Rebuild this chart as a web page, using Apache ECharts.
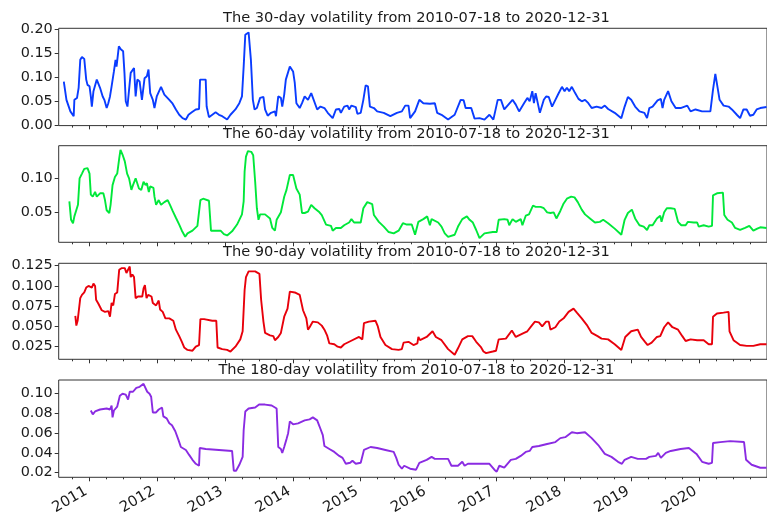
<!DOCTYPE html>
<html><head><meta charset="utf-8">
<script src="https://cdn.jsdelivr.net/npm/echarts@6/dist/echarts.min.js"></script>
<style>html,body{margin:0;padding:0;background:#fff}#c{width:767px;height:518px}</style>
</head><body><div id="c"></div>
<script>
// ---- data (x as decimal years, y as volatility) ----
const startDate = '2010-07-18';
const endDate = '2020-12-31';
const titles = [
  'The 30-day volatility from 2010-07-18 to 2020-12-31',
  'The 60-day volatility from 2010-07-18 to 2020-12-31',
  'The 90-day volatility from 2010-07-18 to 2020-12-31',
  'The 180-day volatility from 2010-07-18 to 2020-12-31'
];
const yearTicks = [2011, 2012, 2013, 2014, 2015, 2016, 2017, 2018, 2019, 2020];
const yTicks30 = [0, 0.05, 0.10, 0.15, 0.20];
const yTicks60 = [0.05, 0.10];
const yTicks90 = [0.025, 0.050, 0.075, 0.100, 0.125];
const yTicks180 = [0.02, 0.04, 0.06, 0.08, 0.10];

const vol30 = [[2010.618,0.091],[2010.657,0.053],[2010.691,0.039],[2010.715,0.029],[2010.739,0.026],[2010.764,0.019],[2010.774,0.053],[2010.813,0.057],[2010.837,0.078],[2010.861,0.136],[2010.886,0.142],[2010.920,0.138],[2010.934,0.140],[2010.949,0.095],[2010.968,0.084],[2010.998,0.081],[2011.017,0.060],[2011.032,0.039],[2011.056,0.071],[2011.080,0.074],[2011.105,0.095],[2011.129,0.091],[2011.153,0.078],[2011.192,0.060],[2011.217,0.053],[2011.251,0.036],[2011.275,0.046],[2011.300,0.060],[2011.324,0.081],[2011.358,0.112],[2011.382,0.136],[2011.397,0.122],[2011.431,0.164],[2011.460,0.158],[2011.494,0.154],[2011.514,0.109],[2011.533,0.050],[2011.558,0.039],[2011.582,0.038],[2011.606,0.109],[2011.631,0.112],[2011.655,0.119],[2011.679,0.060],[2011.704,0.095],[2011.738,0.091],[2011.772,0.053],[2011.811,0.098],[2011.845,0.102],[2011.869,0.116],[2011.894,0.067],[2011.933,0.053],[2011.957,0.036],[2011.991,0.060],[2012.054,0.080],[2012.079,0.078],[2012.103,0.064],[2012.176,0.053],[2012.225,0.045],[2012.273,0.033],[2012.322,0.022],[2012.371,0.015],[2012.420,0.012],[2012.459,0.022],[2012.507,0.027],[2012.566,0.033],[2012.614,0.034],[2012.629,0.095],[2012.712,0.095],[2012.726,0.039],[2012.760,0.017],[2012.809,0.022],[2012.858,0.027],[2012.907,0.022],[2012.955,0.019],[2013.028,0.012],[2013.077,0.022],[2013.150,0.033],[2013.208,0.046],[2013.247,0.060],[2013.272,0.122],[2013.296,0.188],[2013.345,0.193],[2013.379,0.136],[2013.408,0.053],[2013.433,0.033],[2013.467,0.036],[2013.515,0.057],[2013.564,0.059],[2013.588,0.033],[2013.627,0.020],[2013.676,0.026],[2013.734,0.029],[2013.749,0.019],[2013.783,0.060],[2013.822,0.057],[2013.842,0.039],[2013.871,0.064],[2013.895,0.095],[2013.954,0.122],[2013.968,0.126],[2014.002,0.112],[2014.027,0.088],[2014.051,0.046],[2014.100,0.036],[2014.134,0.046],[2014.173,0.060],[2014.222,0.053],[2014.270,0.067],[2014.294,0.071],[2014.358,0.033],[2014.407,0.039],[2014.465,0.036],[2014.514,0.026],[2014.587,0.015],[2014.635,0.033],[2014.684,0.034],[2014.708,0.026],[2014.757,0.039],[2014.806,0.041],[2014.830,0.033],[2014.864,0.041],[2014.928,0.038],[2014.952,0.024],[2015.001,0.026],[2015.040,0.053],[2015.074,0.083],[2015.108,0.081],[2015.137,0.039],[2015.196,0.036],[2015.244,0.029],[2015.341,0.026],[2015.439,0.019],[2015.536,0.026],[2015.609,0.029],[2015.658,0.041],[2015.707,0.041],[2015.731,0.015],[2015.804,0.029],[2015.867,0.053],[2015.926,0.046],[2016.023,0.045],[2016.096,0.046],[2016.130,0.026],[2016.194,0.022],[2016.291,0.012],[2016.388,0.022],[2016.476,0.053],[2016.520,0.052],[2016.549,0.036],[2016.632,0.036],[2016.681,0.014],[2016.754,0.015],[2016.827,0.012],[2016.900,0.022],[2016.958,0.012],[2017.022,0.053],[2017.070,0.053],[2017.119,0.033],[2017.241,0.053],[2017.289,0.043],[2017.338,0.029],[2017.411,0.046],[2017.460,0.057],[2017.494,0.050],[2017.533,0.071],[2017.557,0.046],[2017.582,0.067],[2017.606,0.071],[2017.645,0.026],[2017.703,0.053],[2017.737,0.060],[2017.776,0.059],[2017.825,0.039],[2017.874,0.053],[2017.913,0.064],[2017.971,0.080],[2018.010,0.071],[2018.044,0.078],[2018.078,0.071],[2018.117,0.080],[2018.166,0.067],[2018.215,0.055],[2018.263,0.050],[2018.312,0.053],[2018.361,0.046],[2018.410,0.036],[2018.483,0.039],[2018.556,0.036],[2018.604,0.041],[2018.653,0.034],[2018.750,0.026],[2018.848,0.015],[2018.897,0.039],[2018.945,0.059],[2018.994,0.053],[2019.052,0.039],[2019.116,0.029],[2019.189,0.026],[2019.228,0.015],[2019.262,0.036],[2019.310,0.039],[2019.384,0.052],[2019.432,0.055],[2019.457,0.036],[2019.481,0.053],[2019.539,0.071],[2019.588,0.050],[2019.651,0.036],[2019.724,0.036],[2019.822,0.041],[2019.871,0.029],[2019.944,0.033],[2020.041,0.029],[2020.114,0.029],[2020.163,0.029],[2020.202,0.074],[2020.236,0.107],[2020.260,0.107],[2020.299,0.053],[2020.358,0.041],[2020.431,0.039],[2020.480,0.033],[2020.553,0.022],[2020.601,0.015],[2020.650,0.033],[2020.698,0.033],[2020.747,0.020],[2020.796,0.022],[2020.845,0.033],[2020.898,0.036],[2020.990,0.038]];

const vol60 = [[2010.700,0.066],[2010.725,0.039],[2010.754,0.034],[2010.774,0.044],[2010.803,0.044],[2010.827,0.061],[2010.851,0.100],[2010.886,0.107],[2010.920,0.114],[2010.968,0.115],[2010.998,0.107],[2011.017,0.076],[2011.046,0.073],[2011.080,0.080],[2011.105,0.073],[2011.153,0.078],[2011.202,0.078],[2011.226,0.068],[2011.251,0.053],[2011.290,0.049],[2011.309,0.061],[2011.338,0.090],[2011.373,0.102],[2011.407,0.107],[2011.436,0.129],[2011.455,0.142],[2011.485,0.135],[2011.519,0.125],[2011.553,0.107],[2011.582,0.100],[2011.616,0.083],[2011.640,0.090],[2011.679,0.100],[2011.699,0.102],[2011.728,0.085],[2011.762,0.083],[2011.796,0.095],[2011.825,0.090],[2011.845,0.093],[2011.874,0.080],[2011.894,0.088],[2011.942,0.086],[2011.957,0.073],[2011.981,0.061],[2012.020,0.068],[2012.054,0.061],[2012.103,0.065],[2012.152,0.068],[2012.186,0.061],[2012.225,0.052],[2012.273,0.042],[2012.322,0.032],[2012.361,0.023],[2012.410,0.014],[2012.444,0.019],[2012.517,0.023],[2012.590,0.030],[2012.614,0.031],[2012.634,0.068],[2012.673,0.070],[2012.760,0.067],[2012.790,0.023],[2012.858,0.023],[2012.931,0.023],[2012.980,0.018],[2013.028,0.016],[2013.101,0.022],[2013.174,0.032],[2013.247,0.047],[2013.272,0.066],[2013.286,0.110],[2013.306,0.132],[2013.335,0.140],[2013.384,0.139],[2013.413,0.134],[2013.442,0.095],[2013.467,0.056],[2013.491,0.039],[2013.515,0.047],[2013.588,0.047],[2013.661,0.041],[2013.695,0.027],[2013.734,0.023],[2013.759,0.039],[2013.822,0.050],[2013.871,0.073],[2013.905,0.083],[2013.954,0.105],[2014.002,0.105],[2014.051,0.085],[2014.100,0.076],[2014.134,0.049],[2014.173,0.049],[2014.222,0.051],[2014.270,0.061],[2014.319,0.056],[2014.392,0.050],[2014.426,0.046],[2014.489,0.032],[2014.562,0.030],[2014.587,0.023],[2014.635,0.027],[2014.708,0.027],[2014.757,0.031],[2014.830,0.035],[2014.864,0.040],[2014.903,0.035],[2015.001,0.035],[2015.040,0.056],[2015.098,0.065],[2015.171,0.062],[2015.196,0.046],[2015.269,0.036],[2015.342,0.029],[2015.414,0.021],[2015.488,0.019],[2015.561,0.023],[2015.624,0.034],[2015.682,0.032],[2015.755,0.032],[2015.804,0.017],[2015.853,0.036],[2015.926,0.040],[2015.984,0.044],[2016.023,0.031],[2016.048,0.040],[2016.145,0.035],[2016.194,0.029],[2016.242,0.019],[2016.291,0.014],[2016.388,0.017],[2016.437,0.029],[2016.500,0.040],[2016.568,0.044],[2016.608,0.039],[2016.656,0.035],[2016.705,0.024],[2016.754,0.012],[2016.827,0.019],[2016.949,0.021],[2017.007,0.021],[2017.036,0.039],[2017.119,0.040],[2017.168,0.039],[2017.192,0.031],[2017.241,0.040],[2017.289,0.036],[2017.362,0.040],[2017.387,0.031],[2017.436,0.045],[2017.484,0.047],[2017.543,0.060],[2017.582,0.058],[2017.655,0.058],[2017.703,0.056],[2017.752,0.050],[2017.801,0.049],[2017.849,0.050],[2017.889,0.041],[2017.947,0.052],[2017.996,0.063],[2018.044,0.070],[2018.108,0.073],[2018.157,0.072],[2018.205,0.065],[2018.263,0.054],[2018.312,0.047],[2018.385,0.041],[2018.458,0.035],[2018.531,0.036],[2018.580,0.039],[2018.653,0.034],[2018.750,0.026],[2018.848,0.017],[2018.897,0.039],[2018.945,0.049],[2019.004,0.054],[2019.052,0.041],[2019.116,0.031],[2019.179,0.029],[2019.228,0.024],[2019.262,0.031],[2019.310,0.031],[2019.374,0.041],[2019.423,0.045],[2019.442,0.036],[2019.481,0.050],[2019.520,0.056],[2019.578,0.056],[2019.637,0.055],[2019.686,0.036],[2019.734,0.031],[2019.798,0.031],[2019.832,0.036],[2019.919,0.035],[2019.968,0.035],[2019.992,0.029],[2020.065,0.031],[2020.138,0.029],[2020.187,0.030],[2020.202,0.075],[2020.260,0.078],[2020.348,0.079],[2020.368,0.046],[2020.416,0.039],[2020.480,0.035],[2020.528,0.027],[2020.601,0.024],[2020.674,0.027],[2020.737,0.030],[2020.796,0.023],[2020.854,0.026],[2020.898,0.028],[2020.990,0.027]];

const vol90 = [[2010.788,0.063],[2010.803,0.051],[2010.822,0.057],[2010.837,0.055],[2010.861,0.085],[2010.886,0.089],[2010.920,0.092],[2010.949,0.098],[2010.983,0.100],[2011.032,0.098],[2011.056,0.103],[2011.080,0.100],[2011.095,0.083],[2011.129,0.078],[2011.153,0.076],[2011.178,0.070],[2011.226,0.068],[2011.275,0.069],[2011.300,0.062],[2011.324,0.079],[2011.348,0.076],[2011.373,0.090],[2011.407,0.092],[2011.436,0.120],[2011.470,0.122],[2011.519,0.122],[2011.543,0.116],[2011.567,0.120],[2011.592,0.124],[2011.606,0.111],[2011.631,0.114],[2011.655,0.111],[2011.679,0.085],[2011.713,0.087],[2011.777,0.087],[2011.796,0.097],[2011.816,0.101],[2011.840,0.085],[2011.864,0.089],[2011.913,0.087],[2011.933,0.079],[2011.981,0.076],[2012.020,0.082],[2012.040,0.071],[2012.079,0.068],[2012.118,0.060],[2012.176,0.060],[2012.235,0.057],[2012.273,0.046],[2012.322,0.038],[2012.361,0.031],[2012.395,0.024],[2012.444,0.021],[2012.517,0.020],[2012.566,0.025],[2012.614,0.027],[2012.634,0.059],[2012.688,0.059],[2012.809,0.057],[2012.868,0.057],[2012.887,0.024],[2012.955,0.022],[2013.028,0.021],[2013.077,0.019],[2013.150,0.025],[2013.222,0.034],[2013.257,0.044],[2013.286,0.095],[2013.306,0.111],[2013.345,0.118],[2013.442,0.118],[2013.505,0.115],[2013.530,0.083],[2013.564,0.056],[2013.588,0.042],[2013.661,0.039],[2013.710,0.038],[2013.734,0.033],[2013.783,0.037],[2013.822,0.042],[2013.871,0.062],[2013.920,0.072],[2013.954,0.093],[2014.027,0.092],[2014.100,0.089],[2014.149,0.070],[2014.198,0.060],[2014.222,0.046],[2014.246,0.049],[2014.270,0.049],[2014.294,0.056],[2014.368,0.055],[2014.426,0.051],[2014.465,0.046],[2014.504,0.039],[2014.538,0.029],[2014.611,0.028],[2014.660,0.025],[2014.708,0.024],[2014.757,0.028],[2014.854,0.032],[2014.976,0.037],[2015.025,0.034],[2015.049,0.054],[2015.122,0.056],[2015.220,0.057],[2015.254,0.050],[2015.293,0.037],[2015.366,0.027],[2015.463,0.022],[2015.561,0.021],[2015.609,0.022],[2015.634,0.030],[2015.707,0.031],[2015.780,0.027],[2015.838,0.029],[2015.853,0.037],[2015.877,0.033],[2015.975,0.037],[2016.062,0.044],[2016.111,0.037],[2016.194,0.033],[2016.291,0.022],[2016.388,0.015],[2016.437,0.023],[2016.500,0.034],[2016.583,0.038],[2016.647,0.038],[2016.705,0.031],[2016.778,0.024],[2016.812,0.019],[2016.851,0.017],[2016.949,0.019],[2016.997,0.020],[2017.036,0.034],[2017.143,0.035],[2017.231,0.045],[2017.289,0.037],[2017.411,0.042],[2017.460,0.044],[2017.533,0.052],[2017.572,0.056],[2017.630,0.055],[2017.679,0.050],[2017.737,0.056],[2017.776,0.056],[2017.801,0.046],[2017.874,0.049],[2017.932,0.056],[2017.996,0.060],[2018.069,0.068],[2018.142,0.072],[2018.191,0.067],[2018.263,0.060],[2018.337,0.052],[2018.410,0.042],[2018.497,0.038],[2018.556,0.035],[2018.653,0.034],[2018.750,0.028],[2018.848,0.021],[2018.906,0.037],[2018.994,0.044],[2019.091,0.046],[2019.140,0.037],[2019.198,0.031],[2019.237,0.027],[2019.296,0.030],[2019.374,0.037],[2019.423,0.038],[2019.481,0.049],[2019.539,0.055],[2019.603,0.049],[2019.686,0.046],[2019.749,0.038],[2019.798,0.032],[2019.871,0.034],[2019.968,0.033],[2020.065,0.033],[2020.138,0.028],[2020.187,0.028],[2020.202,0.062],[2020.260,0.066],[2020.357,0.067],[2020.431,0.068],[2020.445,0.044],[2020.504,0.033],[2020.601,0.027],[2020.698,0.026],[2020.796,0.026],[2020.898,0.028],[2020.990,0.028]];

const vol180 = [[2011.017,0.083],[2011.046,0.079],[2011.080,0.082],[2011.153,0.084],[2011.251,0.085],[2011.300,0.084],[2011.324,0.088],[2011.338,0.076],[2011.358,0.083],[2011.387,0.084],[2011.407,0.087],[2011.426,0.085],[2011.446,0.098],[2011.485,0.100],[2011.533,0.099],[2011.567,0.094],[2011.592,0.102],[2011.640,0.102],[2011.665,0.103],[2011.689,0.106],[2011.738,0.107],[2011.796,0.110],[2011.825,0.108],[2011.850,0.102],[2011.884,0.100],[2011.908,0.097],[2011.933,0.081],[2011.981,0.081],[2012.020,0.084],[2012.069,0.086],[2012.088,0.077],[2012.137,0.075],[2012.176,0.070],[2012.215,0.068],[2012.264,0.062],[2012.312,0.053],[2012.346,0.046],[2012.420,0.043],[2012.468,0.038],[2012.517,0.033],[2012.566,0.029],[2012.614,0.027],[2012.624,0.045],[2012.712,0.044],[2012.907,0.043],[2013.101,0.042],[2013.126,0.022],[2013.160,0.022],[2013.208,0.028],[2013.257,0.036],[2013.272,0.063],[2013.296,0.082],[2013.345,0.085],[2013.442,0.086],[2013.500,0.089],[2013.588,0.089],[2013.686,0.088],[2013.759,0.085],[2013.783,0.046],[2013.822,0.044],[2013.842,0.040],[2013.871,0.046],[2013.905,0.054],[2013.929,0.060],[2013.954,0.072],[2014.002,0.069],[2014.076,0.070],[2014.173,0.073],[2014.246,0.074],[2014.294,0.076],[2014.358,0.073],[2014.392,0.067],[2014.441,0.058],[2014.465,0.047],[2014.538,0.044],[2014.611,0.041],[2014.684,0.037],[2014.733,0.035],[2014.781,0.029],[2014.845,0.030],[2014.879,0.032],[2014.928,0.029],[2015.001,0.030],[2015.049,0.043],[2015.147,0.046],[2015.244,0.045],[2015.366,0.043],[2015.488,0.041],[2015.526,0.035],[2015.561,0.028],[2015.609,0.024],[2015.643,0.027],[2015.731,0.024],[2015.819,0.023],[2015.867,0.030],[2015.975,0.033],[2016.048,0.036],[2016.096,0.034],[2016.291,0.034],[2016.340,0.027],[2016.437,0.027],[2016.500,0.031],[2016.534,0.027],[2016.583,0.029],[2016.803,0.029],[2016.900,0.029],[2016.973,0.023],[2017.007,0.021],[2017.046,0.027],[2017.119,0.025],[2017.216,0.033],[2017.289,0.034],[2017.362,0.037],[2017.436,0.041],[2017.494,0.042],[2017.533,0.046],[2017.630,0.047],[2017.752,0.049],[2017.874,0.051],[2017.947,0.055],[2018.020,0.056],[2018.117,0.061],[2018.191,0.060],[2018.312,0.061],[2018.410,0.055],[2018.507,0.048],[2018.604,0.039],[2018.702,0.036],[2018.799,0.031],[2018.857,0.029],[2018.897,0.033],[2018.994,0.036],[2019.091,0.034],[2019.213,0.034],[2019.262,0.036],[2019.359,0.037],[2019.393,0.040],[2019.432,0.035],[2019.505,0.040],[2019.578,0.042],[2019.724,0.044],[2019.846,0.045],[2019.958,0.039],[2020.041,0.031],[2020.138,0.029],[2020.187,0.030],[2020.202,0.050],[2020.309,0.051],[2020.455,0.052],[2020.659,0.051],[2020.689,0.033],[2020.771,0.028],[2020.898,0.025],[2020.990,0.025]];

// ---- helpers ----
function yearToTs(t) {
  const y = Math.floor(t);
  const a = Date.UTC(y, 0, 1), b = Date.UTC(y + 1, 0, 1);
  return a + (t - y) * (b - a);
}
function dateToTs(s) { const p = s.split('-').map(Number); return Date.UTC(p[0], p[1] - 1, p[2]); }
const xMin = dateToTs(startDate), xMax = dateToTs(endDate);
const majorTicks = yearTicks.map(y => Date.UTC(y, 0, 1));
const minorTicks = [];
for (let y = 2010; y <= 2020; y++) for (const m of [3, 6, 9]) {
  const ts = Date.UTC(y, m, 1);
  if (ts > xMin && ts < xMax) minorTicks.push(ts);
}

const panels = [
  { data: vol30, color: '#0a3cff', ticks: yTicks30, dec: 2, min: -0.0005, max: 0.2015, top: 28.3, height: 97.3, titleTop: 10.5 },
  { data: vol60, color: '#00e83a', ticks: yTicks60, dec: 2, min: 0.0059, max: 0.148, top: 145.7, height: 96.6, titleTop: 127 },
  { data: vol90, color: '#e8000b', ticks: yTicks90, dec: 3, min: 0.0094, max: 0.128, top: 263.3, height: 96, titleTop: 244.3 },
  { data: vol180, color: '#8a2be2', ticks: yTicks180, dec: 2, min: 0.0153, max: 0.1139, top: 380, height: 97.3, titleTop: 362.5 }
];

const FONT = 'DejaVu Sans';
const TXT = '#1a1a1a';
const grid = [], xAxis = [], yAxis = [], series = [], title = [];
panels.forEach((p, i) => {
  grid.push({ left: 58.7, right: -7.1, top: p.top, height: p.height, show: true,
    borderColor: '#333', borderWidth: 1, backgroundColor: 'transparent' });
  title.push({ text: titles[i], left: 416.4, top: p.titleTop, textAlign: 'center', padding: 0,
    textStyle: { fontFamily: FONT, fontSize: 14.6, fontWeight: 'normal', color: TXT } });
  // major (year) axis
  xAxis.push({ type: 'value', gridIndex: i, min: xMin, max: xMax, position: 'bottom', scale: true,
    axisLine: { show: false }, splitLine: { show: false },
    axisTick: { show: true, length: 4, customValues: majorTicks, lineStyle: { color: '#333', width: 1 } },
    axisLabel: { show: i === 3, customValues: majorTicks, rotate: 30, margin: 11, padding: [0, 4, 0, 0],
      formatter: v => String(new Date(v).getUTCFullYear()),
      fontFamily: FONT, fontSize: 14.8, color: TXT } });
  // minor (quarter) ticks
  xAxis.push({ type: 'value', gridIndex: i, min: xMin, max: xMax, position: 'bottom', scale: true,
    axisLine: { show: false }, splitLine: { show: false }, axisLabel: { show: false },
    axisTick: { show: true, length: 2, customValues: minorTicks, lineStyle: { color: '#333', width: 1 } } });
  yAxis.push({ type: 'value', gridIndex: i, min: p.min, max: p.max,
    axisLine: { show: false }, splitLine: { show: false },
    axisTick: { show: true, length: 4, customValues: p.ticks, lineStyle: { color: '#333', width: 1 } },
    axisLabel: { customValues: p.ticks, margin: 6, formatter: v => v.toFixed(p.dec),
      fontFamily: FONT, fontSize: 14.4, color: TXT } });
  series.push({ type: 'line', xAxisIndex: i * 2, yAxisIndex: i, showSymbol: false, symbol: 'none',
    lineStyle: { color: p.color, width: 1.9 }, itemStyle: { color: p.color },
    data: p.data.map(d => [yearToTs(d[0]), d[1]]) });
});

const chart = echarts.init(document.getElementById('c'), null, { renderer: 'canvas' });
chart.setOption({ animation: false, backgroundColor: '#fff', title, grid, xAxis, yAxis, series });
</script></body></html>
